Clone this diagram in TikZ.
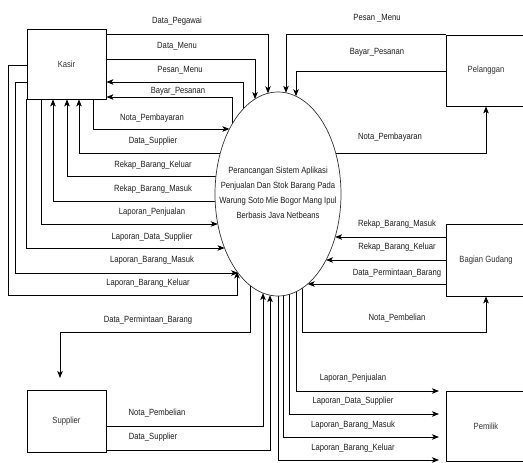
\documentclass[tikz,border=0pt]{standalone}
\usepackage{fontspec}
\setmainfont{Liberation Sans}[FakeStretch=0.85]
\usetikzlibrary{arrows.meta,shapes.geometric}
\pgfdeclarelayer{back}
\pgfdeclarelayer{bg}
\pgfsetlayers{back,bg,main}
\def\EA{63}\def\EB{102}\def\EX{278}\def\EY{194}
\newcommand\Lx[1]{\EX-\EA*sqrt(1-((#1-\EY)/\EB)*((#1-\EY)/\EB))}
\newcommand\Rx[1]{\EX+\EA*sqrt(1-((#1-\EY)/\EB)*((#1-\EY)/\EB))}
\newcommand\Ty[1]{\EY-\EB*sqrt(1-((#1-\EX)/\EA)*((#1-\EX)/\EA))}
\newcommand\By[1]{\EY+\EB*sqrt(1-((#1-\EX)/\EA)*((#1-\EX)/\EA))}
\begin{document}
\begin{tikzpicture}[x=1pt,y=-1pt,
  lbl/.style={font=\fontsize{9}{10}\selectfont, text=black!88, inner sep=0pt},
  box/.style={draw, line width=0.8pt, minimum width=79pt, inner sep=0pt, font=\fontsize{9}{10}\selectfont, text=black!80},
  flow/.style={draw, line width=0.8pt},
  arr/.style={flow, -{Stealth[length=7pt,width=5.5pt,inset=1.8pt]}}]
\useasboundingbox (0,0) rectangle (523,463);
\begin{pgfonlayer}{back}
\fill[white] (0,0) rectangle (523,463);
\end{pgfonlayer}

% entities
\node[box, minimum height=70pt] (kasir) at (66.5,64) {Kasir};
\node[box, minimum width=80pt, minimum height=71pt] (pelanggan) at (486,70.5) {Pelanggan};
\node[box, minimum width=80pt, minimum height=72pt] (gudang) at (486,260) {Bagian Gudang};
\node[box, minimum height=62pt] (supplier) at (66.5,421) {Supplier};
\node[box, minimum width=80pt, minimum height=70pt] (pemilik) at (486,426) {Pemilik};

% process
\node[draw=black!80, ellipse, fill=white, line width=0.7pt, inner sep=0pt, minimum width=126pt, minimum height=204pt] (proc) at (\EX,\EY) {};
\node[lbl, align=center, font=\fontsize{9}{15}\selectfont] (proctext) at (278,192.5)
 {Perancangan Sistem Aplikasi\\Penjualan Dan Stok Barang Pada\\Warung Soto Mie Bogor Mang Ipul\\Berbasis Java Netbeans};

\begin{pgfonlayer}{bg}
% Kasir <-> process
\draw[arr] (kasir.east |- 0,34) -| (268,{\Ty{268}});
\draw[arr] (kasir.east |- 0,59) -| (255,{\Ty{255}});
\draw[arr] (243,{\Ty{243}}) |- (kasir.east |- 0,82);
\draw[arr] (232,{\Ty{232}}) |- (kasir.east |- 0,97);
\draw[arr] (kasir.south -| 93,0) |- ({\Lx{129}},129);
\draw[arr] ({\Lx{153}},153) -| (kasir.south -| 79,0);
\draw[arr] ({\Lx{176}},176) -| (kasir.south -| 67,0);
\draw[arr] ({\Lx{201}},201) -| (kasir.south -| 53,0);
\draw[arr] (kasir.south -| 41,0) |- ({\Lx{224}},224);
\draw[arr] (kasir.south west) |- ({\Lx{248}},248);
\draw[arr] (kasir.west |- 0,82) -| (15,273) -- ({\Lx{273}},273);
\draw[arr] (kasir.west |- 0,65) -| (8,295) -| (237,{\By{237}});
% Pelanggan
\draw[arr] (pelanggan.north west) -| (286,{\Ty{286}});
\draw[arr] (pelanggan.west |- 0,71) -| (296,{\Ty{296}});
\draw[arr] ({\Rx{153}},153) -| (pelanggan.south);
% Bagian Gudang
\draw[arr] (gudang.west |- 0,237) -- ({\Rx{237}},237);
\draw[arr] (gudang.west |- 0,260) -- ({\Rx{260}},260);
\draw[arr] (gudang.west |- 0,284) -- ({\Rx{284}},284);
\draw[arr] (302,{\By{302}}) |- (gudang.south |- 0,332) -- (gudang.south);
% Supplier
\coordinate (suptip) at (60,378);
\draw[arr] (250,{\By{250}}) |- (60,332) -- (suptip);
\draw[arr] (supplier.east |- 0,426) -| (263,{\By{263}});
\draw[arr] (supplier.east |- 0,450) -| (270,{\By{270}});
% Pemilik
\coordinate (pm1) at (439,391);
\coordinate (pm2) at (439,414);
\coordinate (pm3) at (439,437);
\coordinate (pm4) at (439,460);
\draw[arr] (296,{\By{296}}) |- (pm1);
\draw[arr] (289,{\By{289}}) |- (pm2);
\draw[arr] (283,{\By{283}}) |- (pm3);
\draw[arr] (278,{\By{278}}) |- (pm4);
\end{pgfonlayer}

% labels
\node[lbl] (l1) at (177,21) {Data\_Pegawai};
\node[lbl] (l2) at (177,46) {Data\_Menu};
\node[lbl] (l3) at (180,70) {Pesan\_Menu};
\node[lbl] (l4) at (178,91) {Bayar\_Pesanan};
\node[lbl] (l5) at (152,118) {Nota\_Pembayaran};
\node[lbl] (l6) at (153,141) {Data\_Supplier};
\node[lbl] (l7) at (153,165) {Rekap\_Barang\_Keluar};
\node[lbl] (l8) at (153,189) {Rekap\_Barang\_Masuk};
\node[lbl] (l9) at (152,212) {Laporan\_Penjualan};
\node[lbl] (l10) at (152,237) {Laporan\_Data\_Supplier};
\node[lbl] (l11) at (152,260) {Laporan\_Barang\_Masuk};
\node[lbl] (l12) at (148,283) {Laporan\_Barang\_Keluar};
\node[lbl] (l13) at (377,18) {Pesan \_Menu};
\node[lbl] (l14) at (377,52) {Bayar\_Pesanan};
\node[lbl] (l15) at (390,137) {Nota\_Pembayaran};
\node[lbl] (l16) at (397,224) {Rekap\_Barang\_Masuk};
\node[lbl] (l17) at (397,247) {Rekap\_Barang\_Keluar};
\node[lbl] (l18) at (397,273) {Data\_Permintaan\_Barang};
\node[lbl] (l19) at (397,318) {Nota\_Pembelian};
\node[lbl] (l20) at (148,320) {Data\_Permintaan\_Barang};
\node[lbl] (l21) at (157,413) {Nota\_Pembelian};
\node[lbl] (l22) at (153,437) {Data\_Supplier};
\node[lbl] (l23) at (353,378) {Laporan\_Penjualan};
\node[lbl] (l24) at (353,401) {Laporan\_Data\_Supplier};
\node[lbl] (l25) at (353,425) {Laporan\_Barang\_Masuk};
\node[lbl] (l26) at (353,448) {Laporan\_Barang\_Keluar};
\end{tikzpicture}
\end{document}
